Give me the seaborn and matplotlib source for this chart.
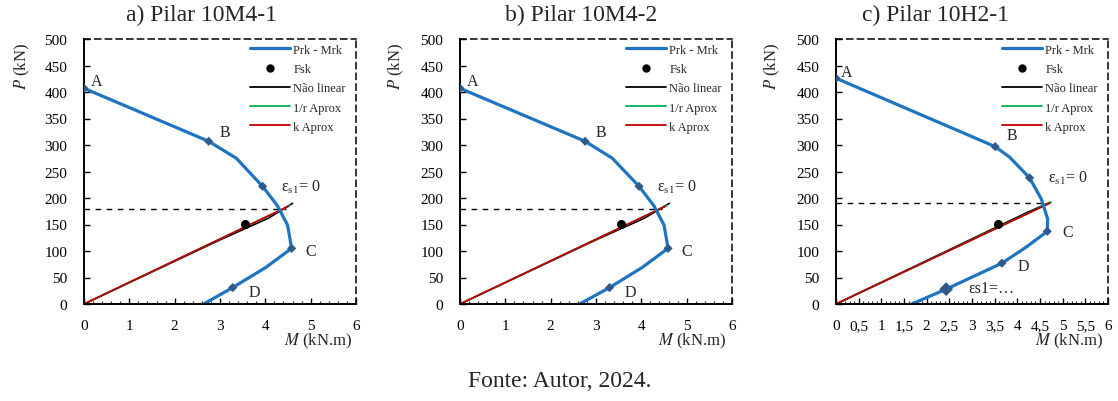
import matplotlib
matplotlib.use("Agg")
import matplotlib.pyplot as plt
import seaborn as sns
from matplotlib.lines import Line2D
from matplotlib.ticker import MultipleLocator, FuncFormatter

# ---- data ----
# a) Pilar 10M4-1
m_a = [0, 2.75, 3.36, 3.94, 4.27, 4.49, 4.58, 4.01, 3.28, 2.64]
p_a = [407, 307, 275, 222, 185, 149, 105, 69, 31, 0]
mk_a = [0, 1, 3, 6, 8]
nl_m_a = [0, 3.0, 4.07, 4.60]
nl_p_a = [0, 121, 162, 190]
r_m_a = [0, 4.55]
r_p_a = [0, 186]
k_m_a = [0, 4.50]
k_p_a = [0, 184]
fsk_a = (3.55, 151)
dash_a = (180, 4.45)

# b) Pilar 10M4-2
m_b = [0, 2.76, 3.36, 3.95, 4.28, 4.50, 4.59, 4.02, 3.30, 2.64]
p_b = [407, 307, 275, 222, 185, 149, 105, 69, 31, 0]
mk_b = [0, 1, 3, 6, 8]
nl_m_b = [0, 3.0, 4.07, 4.62]
nl_p_b = [0, 121, 162, 190]
r_m_b = [0, 4.57]
r_p_b = [0, 186]
k_m_b = [0, 4.52]
k_p_b = [0, 184]
fsk_b = (3.56, 151)
dash_b = (180, 4.45)

# c) Pilar 10H2-1
m_c = [0, 3.51, 3.83, 4.27, 4.53, 4.67, 4.66, 4.19, 3.66, 2.43, 1.67]
p_c = [426, 297, 277, 238, 198, 160, 137, 107, 77, 28, 0]
mk_c = [0, 1, 3, 6, 8, 9]
nl_m_c = [0, 4.20, 4.73]
nl_p_c = [0, 172, 192]
r_m_c = [0, 4.75]
r_p_c = [0, 192]
k_m_c = [0, 4.71]
k_p_c = [0, 190]
fsk_c = (3.58, 151)
dash_c = (190, 4.62)

titles = ["a) Pilar 10M4-1", "b) Pilar 10M4-2", "c) Pilar 10H2-1"]
legend_labels = ["Prk - Mrk", "Fsk", "Não linear", "1/r Aprox", "k Aprox"]

BLUE = "#1f74c2"
MARK = "#2f5a8a"
GREEN = "#00b050"
RED = "#c00000"

sns.set_theme(style="white")
plt.rcParams["font.family"] = ["Liberation Serif", "DejaVu Serif"]
plt.rcParams["mathtext.fontset"] = "stix"

W, H = 1118, 402
fig = plt.figure(figsize=(W / 100, H / 100), dpi=100)


def draw_panel(left, m, p, mk, nl, r1, kk, fsk, dash, labels, minor, comma):
    ax = fig.add_axes([left / W, (H - 305) / H, 272 / W, 265 / H])
    ax.set_facecolor("white")

    # horizontal dashed reference
    ax.plot([0, dash[1]], [dash[0], dash[0]], color="black", lw=1.0,
            ls=(0, (4, 4)))

    sns.lineplot(x=nl[0], y=nl[1], ax=ax, color="black", lw=1.2,
                 sort=False, estimator=None)
    sns.lineplot(x=r1[0], y=r1[1], ax=ax, color=GREEN, lw=1.2,
                 sort=False, estimator=None)
    sns.lineplot(x=kk[0], y=kk[1], ax=ax, color=RED, lw=1.3,
                 sort=False, estimator=None)

    sns.lineplot(x=m, y=p, ax=ax, color=BLUE, lw=2.3, sort=False,
                 estimator=None)
    sizes = [22] * len(mk)
    if len(mk) > 5:
        sizes[-1] = 50
    ax.scatter([m[i] for i in mk], [p[i] for i in mk], marker="D", s=sizes,
               color=MARK, zorder=5, linewidths=0)
    ax.scatter([fsk[0]], [fsk[1]], s=30, color="black", zorder=6)

    for txt, x, y in labels:
        ax.text(x, y, txt, fontsize=11.5, ha="left", va="center")

    ax.set_xlim(0, 6)
    ax.set_ylim(0, 500)
    ax.xaxis.set_major_locator(MultipleLocator(0.5 if comma else 1))
    ax.xaxis.set_minor_locator(MultipleLocator(minor))
    ax.yaxis.set_major_locator(MultipleLocator(50))
    if comma:
        ax.xaxis.set_major_formatter(
            FuncFormatter(lambda v, _: f"{v:g}".replace(".", ",")))
    ax.tick_params(axis="both", which="major", direction="in", length=4,
                   width=1, labelsize=11, colors="black")
    ax.tick_params(axis="x", which="major", pad=11)
    ax.tick_params(axis="y", which="major", pad=12)
    ax.tick_params(axis="x", which="minor", direction="in", length=2.5,
                   width=0.8, bottom=True)
    ax.tick_params(axis="both", left=True, bottom=True)

    for side in ["left", "bottom"]:
        ax.spines[side].set_color("black")
        ax.spines[side].set_linewidth(1.4)
    for side in ["top", "right"]:
        ax.spines[side].set_color("black")
        ax.spines[side].set_linewidth(1.1)
        ax.spines[side].set_linestyle((0, (4, 3)))

    handles = [
        Line2D([], [], color=BLUE, lw=2.3),
        Line2D([], [], color="black", marker="o", ls="none", markersize=5),
        Line2D([], [], color="black", lw=1.3),
        Line2D([], [], color=GREEN, lw=1.3),
        Line2D([], [], color=RED, lw=1.3),
    ]
    ax.legend(handles, legend_labels, loc="upper right", frameon=False,
              fontsize=9, handlelength=3.2, handletextpad=0.3,
              labelspacing=0.58, borderaxespad=0.2,
              bbox_to_anchor=(0.99, 1.01))
    return ax


lab_ab = [("A", 0.15, 420), ("B", 3.0, 324),
          ("ε$_{\\mathrm{s1}}$= 0", 4.34, 222), ("C", 4.89, 100),
          ("D", 3.63, 22)]
lab_c = [("A", 0.11, 438), ("B", 3.77, 318),
         ("ε$_{\\mathrm{s1}}$= 0", 4.67, 238), ("C", 4.99, 135),
         ("D", 4.0, 72), ("εs1=…", 2.93, 30)]

draw_panel(84, m_a, p_a, mk_a, (nl_m_a, nl_p_a), (r_m_a, r_p_a),
           (k_m_a, k_p_a), fsk_a, dash_a, lab_ab, 0.2, False)
draw_panel(460, m_b, p_b, mk_b, (nl_m_b, nl_p_b), (r_m_b, r_p_b),
           (k_m_b, k_p_b), fsk_b, dash_b, lab_ab, 0.2, False)
draw_panel(836, m_c, p_c, mk_c, (nl_m_c, nl_p_c), (r_m_c, r_p_c),
           (k_m_c, k_p_c), fsk_c, dash_c, lab_c, 0.1, True)

# titles, axis labels, caption
for t, cx in zip(titles, [201, 581, 935]):
    fig.text(cx / W, 1 - 15 / H, t, fontsize=17, ha="center", va="center")
for cx in [22, 396, 772]:
    fig.text(cx / W, 1 - 66 / H, "$P$ (kN)", fontsize=12, rotation=90,
             ha="center", va="center")
for rx in [352, 726, 1103]:
    fig.text(rx / W, 1 - 341 / H, "$M$ (kN.m)", fontsize=12, ha="right",
             va="center")
fig.text(560 / W, 1 - 382 / H, "Fonte: Autor, 2024.", fontsize=17,
         ha="center", va="center")

fig.savefig("out.png", dpi=100, facecolor="white")
